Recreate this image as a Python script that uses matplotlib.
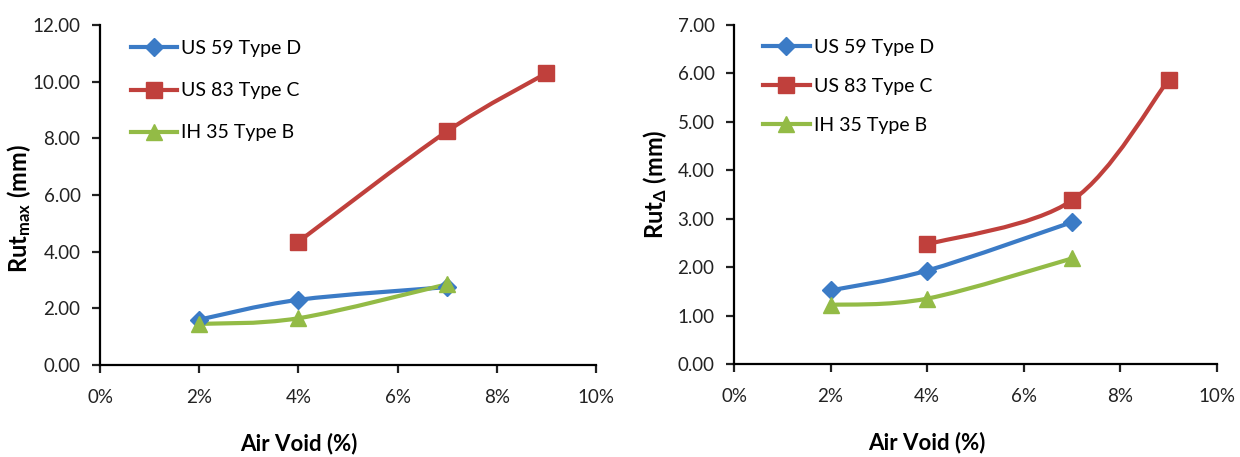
import numpy as np
import matplotlib
matplotlib.use("Agg")
import matplotlib.pyplot as plt
from matplotlib.path import Path
from matplotlib.patches import PathPatch
from matplotlib.ticker import FuncFormatter, MultipleLocator

plt.rcParams['font.family'] = ['Lato', 'DejaVu Sans']
plt.rcParams['mathtext.fontset'] = 'custom'
plt.rcParams['mathtext.rm'] = 'Lato'
plt.rcParams['mathtext.bf'] = 'Lato:bold'

# air void content (%) for each mix
air_void_us59 = [2, 4, 7]
air_void_us83 = [4, 7, 9]
air_void_ih35 = [2, 4, 7]

# maximum rut depth (mm)
rutmax_us59 = [1.60, 2.30, 2.75]
rutmax_us83 = [4.35, 8.25, 10.30]
rutmax_ih35 = [1.45, 1.65, 2.85]

# rut depth difference (mm)
rutdelta_us59 = [1.52, 1.93, 2.93]
rutdelta_us83 = [2.47, 3.38, 5.87]
rutdelta_ih35 = [1.22, 1.35, 2.18]

labels = ['US 59 Type D', 'US 83 Type C', 'IH 35 Type B']
colors = ['#3B7BC6', '#C0403C', '#93BB46']
markers = ['D', 's', '^']
msizes = [9.5, 11.5, 11.5]


def smooth_path(x, y):
    # Excel-style smoothed line: cubic Bezier segments (Catmull-Rom tangents)
    pts = np.column_stack([x, y]).astype(float)
    n = len(pts)
    verts = [pts[0]]
    codes = [Path.MOVETO]
    for i in range(n - 1):
        p_prev = pts[max(i - 1, 0)]
        p0, p1 = pts[i], pts[i + 1]
        p_next = pts[min(i + 2, n - 1)]
        c1 = p0 + (p1 - p_prev) / 6.0
        c2 = p1 - (p_next - p0) / 6.0
        verts += [c1, c2, p1]
        codes += [Path.CURVE4] * 3
    return Path(verts, codes)


def draw_panel(ax, series, ymax, ylabel, legend_anchor, label_spacing):
    for (x, y), lab, c, m, ms in zip(series, labels, colors, markers, msizes):
        ax.add_patch(PathPatch(smooth_path(x, y), facecolor='none',
                               edgecolor=c, lw=3.0, capstyle='round', zorder=2))
        ax.plot(x, y, linestyle='none', marker=m, markersize=ms,
                color=c, markeredgecolor=c, zorder=3)
        # legend proxy with line + marker
        ax.plot([], [], color=c, lw=3.0, marker=m, markersize=ms, label=lab)

    ax.set_xlim(0, 10)
    ax.set_ylim(0, ymax)
    ax.xaxis.set_major_locator(MultipleLocator(2))
    ax.xaxis.set_major_formatter(FuncFormatter(lambda v, p: f'{v:.0f}%'))
    ax.yaxis.set_major_formatter(FuncFormatter(lambda v, p: f'{v:.2f}'))
    for s in ['top', 'right']:
        ax.spines[s].set_visible(False)
    for s in ['left', 'bottom']:
        ax.spines[s].set_linewidth(1.6)
    ax.tick_params(direction='out', length=6, width=1.6, labelsize=13.5,
                   colors='#222222')
    ax.tick_params(axis='y', pad=8)
    ax.tick_params(axis='x', pad=11)

    ax.set_xlabel('Air Void (%)', fontsize=16, fontweight='bold')
    ax.xaxis.set_label_coords(0.40, -0.20)
    ax.set_ylabel(ylabel, fontsize=17)

    ax.legend(loc='upper left', bbox_to_anchor=legend_anchor, frameon=False,
              fontsize=14, handlelength=2.4, handletextpad=0.2,
              labelspacing=label_spacing, borderaxespad=0, borderpad=0)


fig = plt.figure(figsize=(12.4, 4.57), dpi=100)
ax1 = fig.add_axes([100 / 1240, 1 - 365 / 457, 496 / 1240, 340 / 457])
ax2 = fig.add_axes([734 / 1240, 1 - 364 / 457, 483 / 1240, 339 / 457])

draw_panel(ax1,
           [(air_void_us59, rutmax_us59), (air_void_us83, rutmax_us83),
            (air_void_ih35, rutmax_ih35)],
           12, r'$\mathbf{Rut_{max}}$ $\mathbf{(mm)}$', (0.062, 0.955), 1.29)
ax1.yaxis.set_major_locator(MultipleLocator(2))
ax1.yaxis.set_label_coords(-0.135, 0.46)

draw_panel(ax2,
           [(air_void_us59, rutdelta_us59), (air_void_us83, rutdelta_us83),
            (air_void_ih35, rutdelta_ih35)],
           7, r'$\mathbf{Rut_{\Delta}}$ $\mathbf{(mm)}$', (0.06, 0.958), 1.13)
ax2.yaxis.set_major_locator(MultipleLocator(1))
ax2.yaxis.set_label_coords(-0.135, 0.53)

fig.savefig('out.png', dpi=100)
